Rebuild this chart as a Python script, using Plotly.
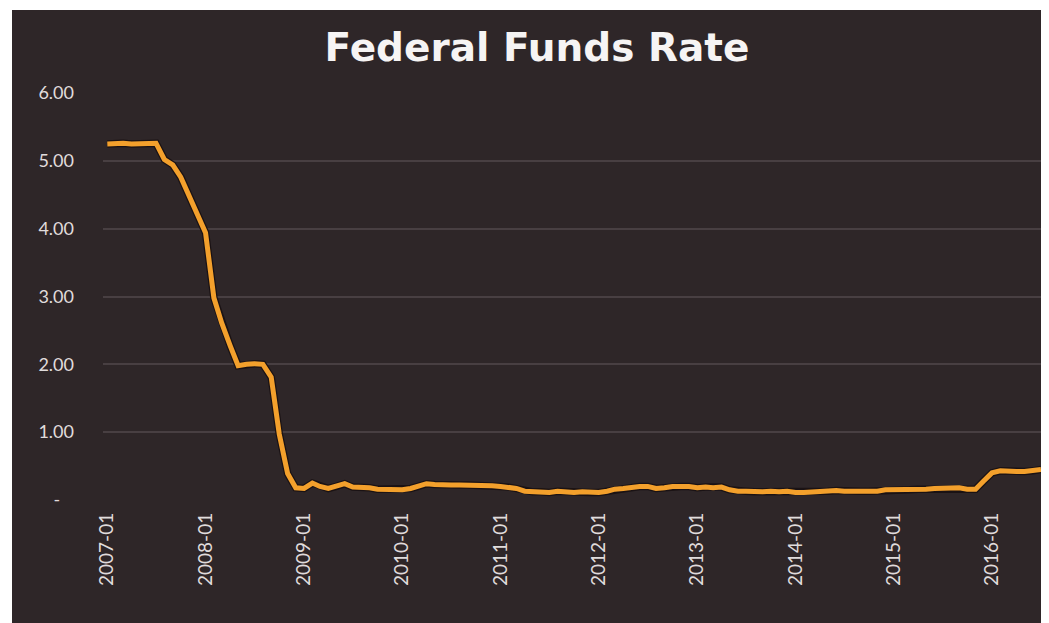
import plotly.graph_objects as go
import pandas as pd

# Monthly effective Federal Funds Rate, 2007-01 .. 2016-07
start_month = "2007-01-01"
rate = [
    # 2007
    5.25, 5.26, 5.26, 5.25, 5.25, 5.25, 5.26, 5.02, 4.94, 4.76, 4.49, 4.24,
    # 2008
    3.94, 2.98, 2.61, 2.28, 1.98, 2.00, 2.01, 2.00, 1.81, 0.97, 0.39, 0.18,
    # 2009
    0.17, 0.25, 0.20, 0.17, 0.20, 0.24, 0.19, 0.19, 0.18, 0.16, 0.16, 0.16,
    # 2010
    0.15, 0.17, 0.20, 0.24, 0.23, 0.22, 0.22, 0.22, 0.22, 0.22, 0.22, 0.21,
    # 2011
    0.20, 0.19, 0.17, 0.13, 0.12, 0.12, 0.11, 0.13, 0.12, 0.11, 0.12, 0.11,
    # 2012
    0.11, 0.13, 0.16, 0.17, 0.19, 0.20, 0.20, 0.17, 0.18, 0.20, 0.20, 0.20,
    # 2013
    0.18, 0.19, 0.18, 0.19, 0.15, 0.13, 0.13, 0.12, 0.12, 0.13, 0.12, 0.13,
    # 2014
    0.11, 0.11, 0.12, 0.13, 0.13, 0.14, 0.13, 0.13, 0.13, 0.13, 0.13, 0.15,
    # 2015
    0.15, 0.15, 0.15, 0.16, 0.16, 0.17, 0.17, 0.18, 0.18, 0.16, 0.16, 0.28,
    # 2016
    0.40, 0.43, 0.42, 0.42, 0.42, 0.43, 0.45,
]
months = pd.date_range(start_month, periods=len(rate), freq="MS")

x_tick_dates = pd.date_range("2007-01-01", "2016-01-01", freq="YS")
x_tick_text = [d.strftime("%Y-%m") for d in x_tick_dates]
y_tick_vals = [0, 1, 2, 3, 4, 5, 6]
y_tick_text = ["-\u00a0\u00a0\u00a0", "1.00", "2.00", "3.00", "4.00", "5.00", "6.00"]

title_text = "Federal Funds Rate"

BG = "#2e2628"
GRID = "#483f42"
LINE = "#f3a02c"
SHADOW = "#1a1214"
TXT = "#e0dcdc"
FONT = "Lato, 'Open Sans', sans-serif"

fig = go.Figure()
fig.add_trace(go.Scatter(x=months, y=rate, mode="lines",
                         line=dict(color=SHADOW, width=7.5), hoverinfo="skip",
                         showlegend=False))
fig.add_trace(go.Scatter(x=months, y=rate, mode="lines",
                         line=dict(color=LINE, width=5), showlegend=False))

# page body adds an 8px margin; the figure is laid out to compensate
W, H = 1041, 615
L, R, T, B = 95, 4, 85, 123
pw = W - L - R
ph = H - T - B
plot_bottom = H - B

# dark "photo" backdrop with a thin white page strip at top and left
fig.add_shape(type="rect", xref="paper", yref="paper",
              x0=(4 - L) / pw, x1=(W - L) / pw + 0.02,
              y0=-(B) / ph - 0.02, y1=(plot_bottom - 2) / ph,
              fillcolor=BG, line=dict(width=0), layer="below")

fig.update_layout(
    width=W, height=H,
    margin=dict(l=L, r=R, t=T, b=B, autoexpand=False),
    paper_bgcolor="white",
    plot_bgcolor=BG,
    font=dict(family=FONT, color=TXT),
    title=dict(text=f"<b>{title_text}</b>", x=529 / W, xanchor="center",
               y=1 - 39 / H, yanchor="middle", xref="container", yref="container",
               font=dict(size=39, color="#f6f4f4", family="'DejaVu Sans', sans-serif")),
    xaxis=dict(
        range=[pd.Timestamp("2006-12-16"), pd.Timestamp("2016-07-16")],
        tickvals=x_tick_dates, ticktext=x_tick_text,
        tickangle=-90, tickfont=dict(size=19, color=TXT),
        showgrid=False, zeroline=False, showline=False, ticks="",
        ticklabelstandoff=8,
    ),
    yaxis=dict(
        range=[0, 6], tickvals=y_tick_vals, ticktext=y_tick_text,
        tickfont=dict(size=18, color=TXT),
        showgrid=True, gridcolor=GRID, gridwidth=1.5,
        zeroline=False, showline=False, ticks="",
        ticklabelstandoff=28,
    ),
)

fig.write_html("out.html")
